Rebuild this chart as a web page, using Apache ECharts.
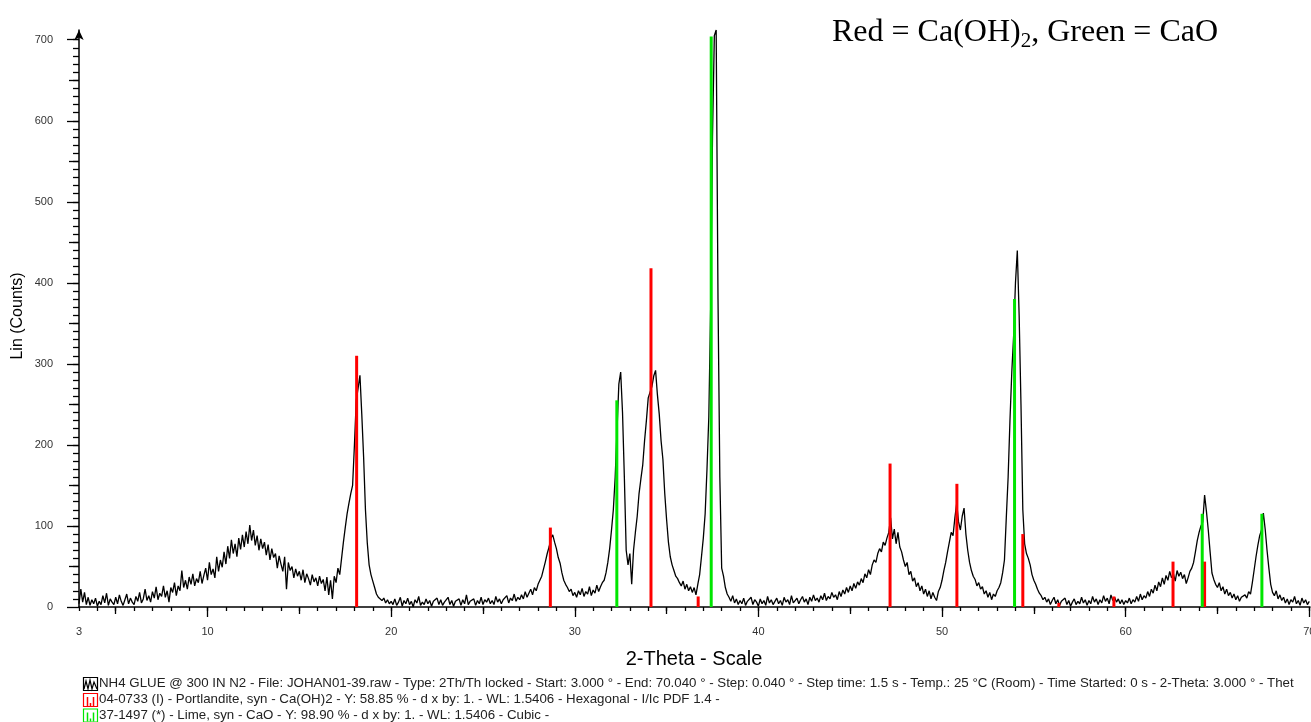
<!DOCTYPE html>
<html><head><meta charset="utf-8">
<script src="https://cdn.jsdelivr.net/npm/echarts@6/dist/echarts.min.js"></script>
<style>html,body{margin:0;padding:0;background:#fff}#c{width:1311px;height:722px}</style>
</head><body><div id="c"></div>
<script>
// ---- scan data (2-Theta step 0.1) ----
const scanStep = 0.1;
const segStarts = [3.0, 20.1, 39.1, 56.1];
const counts_03_20 = [
 4,22,6,18,3,12,2,9,4,11,
 1,7,3,14,5,17,2,10,6,3,
 12,4,15,7,2,9,16,4,11,6,
 3,13,7,18,5,10,22,8,14,6,
 19,11,25,9,17,13,26,12,20,6,
 24,18,30,14,26,20,45,24,33,22,
 37,28,41,26,35,30,44,29,39,48,
 33,55,40,47,36,62,44,58,49,68,
 53,75,60,83,66,78,62,85,71,89,
 74,93,78,101,82,95,76,88,70,84,
 72,80,64,77,58,72,61,66,48,63,
 53,44,62,22,55,45,50,36,47,38,
 44,33,46,30,41,35,27,40,31,36,
 26,38,29,34,20,37,15,33,10,38,
 30,48,40,60,80,98,115,128,140,150,
 200,255,270,286,238,185,120,79,52,40,
 32,24,16,12,14,8,11,5,9,4,
 7];
const counts_20_39 = [
 3,10,2,6,12,1,8,4,11,
 3,7,0,9,5,13,2,6,3,10,
 4,8,1,7,5,11,3,9,2,6,
 4,12,3,8,1,7,5,10,2,9,
 4,15,3,7,5,10,2,8,4,12,
 3,9,6,11,4,8,3,13,6,10,
 4,9,7,14,5,11,8,16,7,12,
 9,15,10,19,12,17,22,15,24,20,
 28,33,38,47,56,66,74,85,89,80,
 72,61,54,42,33,28,24,19,22,14,
 18,12,20,15,23,13,19,16,25,14,
 21,17,27,19,25,30,33,42,55,72,
 95,120,160,218,275,290,240,160,70,52,
 66,28,70,92,112,140,158,175,205,230,
 258,265,272,285,292,262,238,205,182,140,
 108,80,62,52,45,38,35,30,26,32,
 22,28,20,25,18,24,15,28,40,62,
 85,115,170,235,370,580,705,712,380,160,
 48,38,24,16,12,7,14,5,10,3,
 8];
const counts_39_56 = [
 4,11,2,7,5,12,3,9,6,
 1,10,4,8,2,13,5,9,3,7,
 11,4,8,2,12,6,9,3,14,5,
 8,11,4,9,13,6,10,3,12,7,
 15,8,11,6,14,9,17,8,13,10,
 18,12,15,9,19,13,21,16,24,18,
 26,20,29,23,31,27,35,30,41,36,
 46,40,52,58,55,66,72,68,80,76,
 85,92,110,84,96,78,92,74,68,58,
 50,55,40,44,32,36,25,30,20,26,
 16,22,13,20,10,18,12,8,19,24,
 33,45,55,68,80,92,88,110,128,105,
 95,112,122,90,70,55,45,38,34,26,
 30,22,25,16,20,12,18,9,16,13,
 20,24,30,42,58,110,160,230,290,335,
 400,440,360,250,120,78,66,60,52,40,
 33,28,22,17,14,9,12,6,10,3,
 8];
const counts_56_70 = [
 12,4,9,2,7,5,11,3,8,
 1,6,10,3,7,4,12,5,9,2,
 8,4,13,6,10,3,9,5,14,7,
 11,4,15,8,12,6,10,4,9,3,
 8,5,11,4,9,6,13,7,16,9,
 14,11,19,13,22,17,27,20,31,25,
 36,28,39,33,44,36,41,32,45,38,
 43,35,40,29,36,44,48,55,68,82,
 92,100,105,138,118,95,68,42,34,28,
 24,30,20,25,16,22,14,18,11,16,
 9,14,7,12,10,15,11,19,16,30,
 46,62,76,88,95,116,96,70,48,28,
 18,14,20,10,15,8,12,5,10,3,
 9,6,13,4,8,2,11,5,9,3,
 7];

// ---- reference sticks ----
const portlanditePos = [18.12, 28.67, 34.15, 36.72, 47.17, 50.81, 54.40, 56.36, 59.36, 62.58, 64.30];
const portlanditeInt = [310, 98, 418, 13, 177, 152, 90, 5, 13, 56, 56];
const limePos = [32.29, 37.43, 53.95, 64.17, 67.42];
const limeInt = [255, 704, 380, 115, 115];

// ---- ticks ----
const xTickLabels = [3, 10, 20, 30, 40, 50, 60, 70];
const yTickLabels = [0, 100, 200, 300, 400, 500, 600, 700];
const xMin = 3, xMax = 70.04, yMin = 0, yMax = 712;

const xMajorTicks = [10, 20, 30, 40, 50, 60, 70];
const xMidTicks = [5, 15, 25, 35, 45, 55, 65];
const xMinorTicks = []; for (let v = 3; v <= 70; v++) xMinorTicks.push(v);
const yMidTicks = [50, 150, 250, 350, 450, 550, 650];
const yMinorTicks = []; for (let v = 10; v <= 700; v += 10) yMinorTicks.push(v);

const legendLines = [
 'NH4 GLUE @ 300 IN N2 - File: JOHAN01-39.raw - Type: 2Th/Th locked - Start: 3.000 ° - End: 70.040 ° - Step: 0.040 ° - Step time: 1.5 s - Temp.: 25 °C (Room) - Time Started: 0 s - 2-Theta: 3.000 ° - Thet',
 '04-0733 (I) - Portlandite, syn - Ca(OH)2 - Y: 58.85 % - d x by: 1. - WL: 1.5406 - Hexagonal - I/Ic PDF 1.4 -',
 '37-1497 (*) - Lime, syn - CaO - Y: 98.90 % - d x by: 1. - WL: 1.5406 - Cubic -'
];
const legendColors = ['#000000', '#ff0000', '#00e600'];

// ---- build ----
const segs = [counts_03_20, counts_20_39, counts_39_56, counts_56_70];
const lineData = [];
segs.forEach((arr, k) => arr.forEach((v, i) => lineData.push([+(segStarts[k] + i * scanStep).toFixed(2), v])));

const FONT = 'Liberation Sans, Arial, sans-serif';
const baseX = {type: 'value', min: xMin, max: xMax, position: 'bottom', splitLine: {show: false}};
const baseY = {type: 'value', min: yMin, max: yMax, position: 'left', splitLine: {show: false}};
const tickStyle = {color: '#000', width: 1.3};

const graphic = [];
// title
graphic.push({type: 'text', left: 832, top: 17, style: {
  text: '{m|Red = Ca(OH)}{s|2}{m|, Green = CaO}',
  rich: {
    m: {fontFamily: 'Liberation Serif, Times New Roman, serif', fontSize: 32, lineHeight: 38, fill: '#000'},
    s: {fontFamily: 'Liberation Serif, Times New Roman, serif', fontSize: 21, lineHeight: 21, verticalAlign: 'bottom', fill: '#000'}
  }}});
// axis names
graphic.push({type: 'text', x: 18, y: 316, rotation: Math.PI / 2, style: {text: 'Lin (Counts)', font: '16px ' + FONT, fill: '#000', align: 'center', verticalAlign: 'middle'}});
graphic.push({type: 'text', x: 694, y: 659, style: {text: '2-Theta - Scale', font: '20px ' + FONT, fill: '#000', align: 'center', verticalAlign: 'middle'}});
// legend
const legendY = [683.5, 699.5, 715];
legendLines.forEach((t, i) => {
  const cy = legendY[i], c = legendColors[i], bx = 83, by = cy - 6.5;
  graphic.push({type: 'rect', shape: {x: bx + 0.5, y: by + 0.5, width: 14, height: 13}, style: {fill: 'none', stroke: c, lineWidth: 1.2}});
  if (i === 0) {
    graphic.push({type: 'polyline', shape: {points: [[bx + 1, by + 12], [bx + 3, by + 4], [bx + 5, by + 12], [bx + 7, by + 3], [bx + 9, by + 12], [bx + 11, by + 5], [bx + 14, by + 12]]}, style: {fill: 'none', stroke: c, lineWidth: 1.2}});
  } else {
    graphic.push({type: 'line', shape: {x1: bx + 4.5, y1: by + 4, x2: bx + 4.5, y2: by + 13}, style: {stroke: c, lineWidth: 1.5}});
    graphic.push({type: 'line', shape: {x1: bx + 10.5, y1: by + 4, x2: bx + 10.5, y2: by + 13}, style: {stroke: c, lineWidth: 1.5}});
    graphic.push({type: 'line', shape: {x1: bx + 7.5, y1: by + 10, x2: bx + 7.5, y2: by + 13}, style: {stroke: c, lineWidth: 1.5}});
  }
  graphic.push({type: 'text', x: 99, y: cy, style: {text: t, font: '13.3px ' + FONT, fill: '#222', align: 'left', verticalAlign: 'middle'}});
});

const chart = echarts.init(document.getElementById('c'), null, {renderer: 'canvas'});
chart.setOption({
  animation: false,
  backgroundColor: '#fff',
  grid: {left: 79, right: 1, top: 30, bottom: 115, containLabel: false, outerBoundsMode: 'none'},
  xAxis: [
    Object.assign({}, baseX, {
      axisLine: {show: true, lineStyle: {color: '#000', width: 1.5}},
      axisTick: {show: true, length: 10, customValues: xMajorTicks, lineStyle: tickStyle},
      axisLabel: {show: true, customValues: xTickLabels, margin: 19, fontSize: 11, fontFamily: FONT, color: '#333'}
    }),
    Object.assign({}, baseX, {
      axisLine: {show: false},
      axisTick: {show: true, length: 7, customValues: xMidTicks, lineStyle: tickStyle},
      axisLabel: {show: false}
    }),
    Object.assign({}, baseX, {
      axisLine: {show: false},
      axisTick: {show: true, length: 4, customValues: xMinorTicks, lineStyle: tickStyle},
      axisLabel: {show: false}
    })
  ],
  yAxis: [
    Object.assign({}, baseY, {
      axisLine: {show: true, symbol: ['none', 'arrow'], symbolSize: [7, 10], lineStyle: {color: '#000', width: 1.5}},
      axisTick: {show: true, length: 12, customValues: yTickLabels, lineStyle: tickStyle},
      axisLabel: {show: true, customValues: yTickLabels, margin: 26, fontSize: 11, fontFamily: FONT, color: '#333'}
    }),
    Object.assign({}, baseY, {
      axisLine: {show: false},
      axisTick: {show: true, length: 10, customValues: yMidTicks, lineStyle: tickStyle},
      axisLabel: {show: false}
    }),
    Object.assign({}, baseY, {
      axisLine: {show: false},
      axisTick: {show: true, length: 6, customValues: yMinorTicks, lineStyle: tickStyle},
      axisLabel: {show: false}
    })
  ],
  series: [
    {type: 'line', xAxisIndex: 0, yAxisIndex: 0, data: lineData, symbol: 'none', showSymbol: false,
     lineStyle: {color: '#000', width: 1.3}, z: 2, silent: true},
    {type: 'bar', xAxisIndex: 0, yAxisIndex: 0, data: portlanditePos.map((p, i) => [p, portlanditeInt[i]]),
     barWidth: 3, barGap: '-100%', itemStyle: {color: '#ff0000'}, z: 3, silent: true},
    {type: 'bar', xAxisIndex: 0, yAxisIndex: 0, data: limePos.map((p, i) => [p, limeInt[i]]),
     barWidth: 3, barGap: '-100%', itemStyle: {color: '#00e600'}, z: 3, silent: true}
  ],
  graphic: graphic
});
</script>
</body></html>
